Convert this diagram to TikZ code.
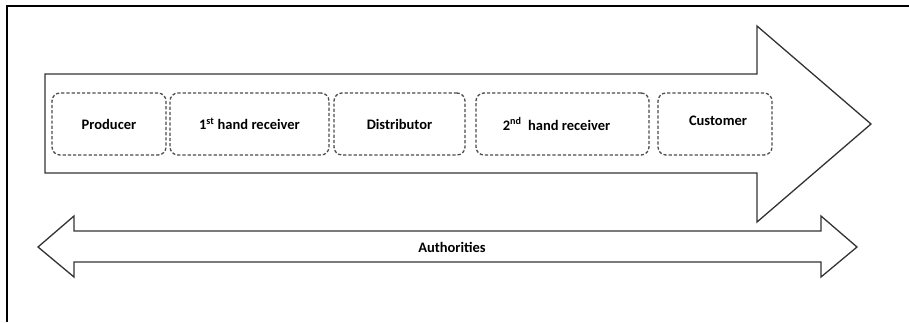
\documentclass[tikz,border=0pt]{standalone}
\usepackage{fontspec}
\setmainfont{Carlito}
\usepackage{tikz}

\tikzset{
  stagebox/.style={draw=black!70, dashed, dash pattern=on 3.2pt off 2pt, line width=1.3pt,
    rounded corners=8pt, minimum height=62pt, inner sep=0pt},
  flowline/.style={draw=black!80, line width=1.3pt, line join=miter, fill=white}
}

\begin{document}
\begin{tikzpicture}[x=1pt, y=-1pt, font=\fontsize{14.5}{16}\selectfont\bfseries]
\useasboundingbox (0,0) rectangle (909,322);

% frame
\draw[line width=2pt] (7,322) -- (7,6) -- (909,6);

% main arrow
\draw[flowline] (45,74) -- (757,74) -- (757,26) -- (871,124) -- (757,222)
  -- (757,173) -- (45,173) -- cycle;

% stages
\node[stagebox, minimum width=114pt] (producer) at (109,124) {Producer};
\node[stagebox, minimum width=159pt] (first) at (249.5,124) {1\textsuperscript{st} hand receiver};
\node[stagebox, minimum width=131pt] (distributor) at (399.5,124) {Distributor};
\node[stagebox, minimum width=173pt] (second) at (562.5,124) {\hspace*{-12pt}2\textsuperscript{nd}\ \ hand receiver};
\node[stagebox, minimum width=114pt] (customer) at (715,124) {\raisebox{7pt}{\hspace*{6pt}Customer}};

% authorities arrow
\draw[flowline] (38,247) -- (74,216) -- (74,231) -- (821,231) -- (821,216)
  -- (857,247) -- (821,277) -- (821,262) -- (74,262) -- (74,277) -- cycle;
\node (authorities) at (452,247) {Authorities};
\end{tikzpicture}
\end{document}
